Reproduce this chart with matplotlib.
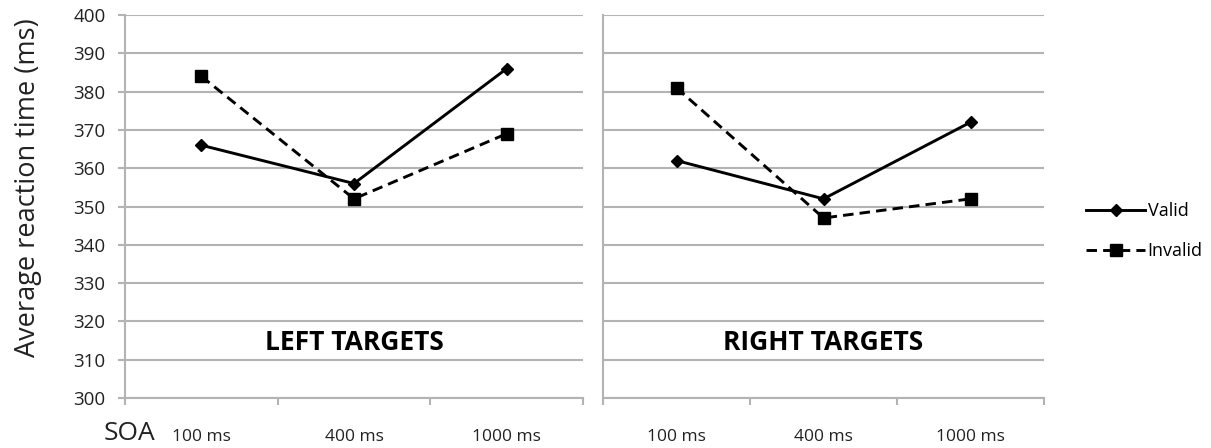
import matplotlib
matplotlib.use("Agg")
import matplotlib.pyplot as plt
from matplotlib.lines import Line2D

soa_labels = ["100 ms", "400 ms", "1000 ms"]
left_valid = [366, 356, 386]
left_invalid = [384, 352, 369]
right_valid = [362, 352, 372]
right_invalid = [381, 347, 352]
panel_titles = ["LEFT TARGETS", "RIGHT TARGETS"]
series_names = ["Valid", "Invalid"]
y_ticks = list(range(300, 401, 10))

plt.rcParams['font.family'] = ['Open Sans', 'DejaVu Sans']
GRID = '#b3b3b3'
TXT = '#222222'
DASH = (0, (3.6, 2.1))

fig = plt.figure(figsize=(12.11, 4.48), dpi=100)
axL = fig.add_axes([125/1211, 1-398/448, 458/1211, 383/448])
axR = fig.add_axes([603/1211, 1-398/448, 441/1211, 383/448])

data = [(axL, left_valid, left_invalid, panel_titles[0]),
        (axR, right_valid, right_invalid, panel_titles[1])]

for i, (ax, v, inv, title) in enumerate(data):
    x = list(range(len(soa_labels)))
    ax.plot(x, v, color='black', lw=2.1, marker='D', ms=6.5, zorder=3)
    ax.plot(x, inv, color='black', lw=2.1, ls=DASH, marker='s', ms=8, zorder=3)
    ax.set_xlim(-0.5, 2.5)
    ax.set_ylim(300, 400)
    ax.set_yticks(y_ticks)
    ax.yaxis.grid(True, color=GRID, lw=1.5)
    ax.set_axisbelow(True)
    for s in ['top', 'right']:
        ax.spines[s].set_visible(False)
    for s in ['left', 'bottom']:
        ax.spines[s].set_color(GRID)
        ax.spines[s].set_linewidth(1.5)
    ax.set_xticks([-0.5, 0.5, 1.5, 2.5])
    ax.set_xticklabels([])
    ax.tick_params(axis='x', which='major', length=5, width=1.5, color=GRID, direction='out')
    for j, lab in enumerate(soa_labels):
        ax.text(j, -0.103, lab, transform=ax.get_xaxis_transform(), ha='center', va='center',
                fontsize=12.5, color=TXT)
    ax.text(1, 314.5, title, ha='center', va='center', fontsize=19, fontweight='bold', color='black')
    if i == 0:
        ax.tick_params(axis='y', length=5, width=1.5, color=GRID, labelsize=13.5, labelcolor=TXT, pad=9)
    else:
        ax.tick_params(axis='y', length=0, labelleft=False)

fig.text(28/1211, 1-188/448, "Average reaction time (ms)", rotation=90, ha='center', va='center',
         fontsize=19.5, color=TXT)
fig.text(129/1211, 1-433/448, "SOA", ha='center', va='center', fontsize=19, color=TXT)

handles = [Line2D([], [], color='black', lw=2.1, marker='D', ms=6.5),
           Line2D([], [], color='black', lw=2.1, ls=DASH, marker='s', ms=8)]
fig.legend(handles, series_names, loc='center left', bbox_to_anchor=(1072/1211, 1-231/448),
           frameon=False, fontsize=13, handlelength=3.27, labelspacing=1.2, handletextpad=0.12,
           borderpad=0.3)

fig.savefig("out.png", dpi=100)
